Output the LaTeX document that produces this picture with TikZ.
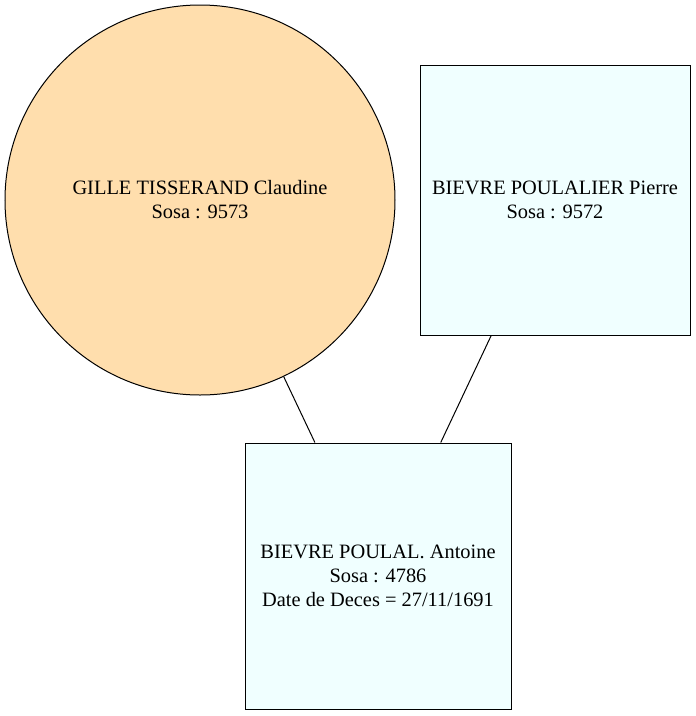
\documentclass[tikz,border=0pt]{standalone}
\usepackage{fontspec}
\setmainfont{Liberation Serif}
\begin{document}
\begin{tikzpicture}[x=1pt,y=-1pt,
  person/.style={draw=black,line width=1pt,inner sep=0pt,align=center,font=\fontsize{20.4}{24}\selectfont},
  fem/.style={person,circle,fill={rgb,255:red,255;green,222;blue,173},minimum size=390pt},
  male/.style={person,rectangle,fill={rgb,255:red,240;green,255;blue,255}},
  link/.style={draw=black,line width=1pt}]
\useasboundingbox (0,0) rectangle (696,716);
\node[fem] (claudine) at (200,200) {GILLE TISSERAND Claudine\\Sosa : 9573};
\node[male,minimum width=270pt,minimum height=270pt] (pierre) at (555,200) {BIEVRE POULALIER Pierre\\Sosa : 9572};
\node[male,minimum width=266pt,minimum height=266pt] (antoine) at (378,576) {BIEVRE POULAL. Antoine\\Sosa : 4786\\Date de Deces = 27/11/1691};
\draw[link] (claudine) -- (antoine);
\draw[link] (pierre) -- (antoine);
\end{tikzpicture}
\end{document}
